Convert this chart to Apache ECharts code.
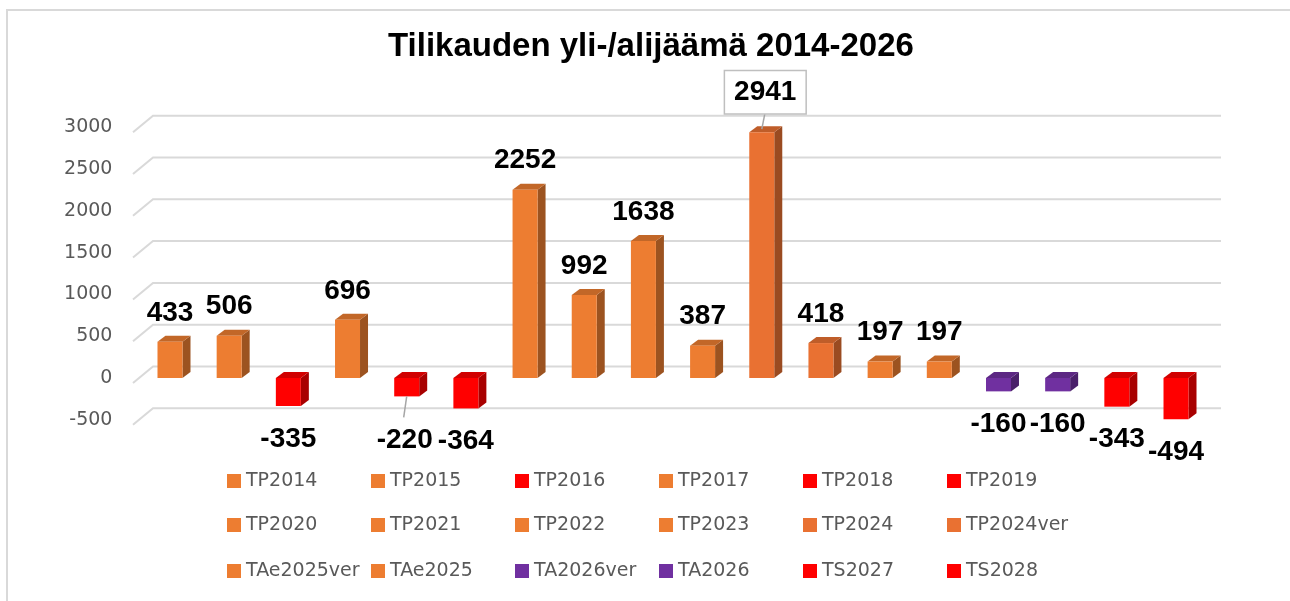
<!DOCTYPE html>
<html><head><meta charset="utf-8">
<script src="https://cdn.jsdelivr.net/npm/echarts@6/dist/echarts.min.js"></script>
<style>html,body{margin:0;padding:0;background:#fff}#c{width:1290px;height:601px}</style>
</head><body><div id="c"></div>
<script>
const titleText = 'Tilikauden yli-/alijäämä 2014-2026';
const categories = ['TP2014','TP2015','TP2016','TP2017','TP2018','TP2019','TP2020','TP2021','TP2022','TP2023','TP2024','TP2024ver','TAe2025ver','TAe2025','TA2026ver','TA2026','TS2027','TS2028'];
const values = [433,506,-335,696,-220,-364,2252,992,1638,387,2941,418,197,197,-160,-160,-343,-494];
const yTicks = [-500,0,500,1000,1500,2000,2500,3000];

const ORANGE = '#ED7D31', ORANGE2 = '#E97132', RED = '#FF0000', PURPLE = '#7030A0';
const seriesColors = [ORANGE,ORANGE,RED,ORANGE,RED,RED,ORANGE,ORANGE,ORANGE,ORANGE,ORANGE2,ORANGE2,ORANGE,ORANGE,PURPLE,PURPLE,RED,RED];
const boxedLabel = 'TP2024';
const leaderLabel = 'TP2018';

function shade(hex, f) {
  const n = parseInt(hex.slice(1), 16);
  const r = Math.round(((n >> 16) & 255) * f), g = Math.round(((n >> 8) & 255) * f), b = Math.round((n & 255) * f);
  return 'rgb(' + r + ',' + g + ',' + b + ')';
}

const LABEL_FONT = { fontFamily: '"Liberation Sans", Arial, sans-serif', fontWeight: 'bold', fontSize: 28 };

function barRender(idx) {
  return function (params, api) {
    const v = api.value(1);
    const p0 = api.coord([api.value(0), 0]);
    const p1 = api.coord([api.value(0), v]);
    const x = p0[0];
    const w = 25, dx = 8, dy = 6;
    const left = x - w / 2, right = x + w / 2;
    const top = Math.min(p0[1], p1[1]), bot = Math.max(p0[1], p1[1]);
    const c = seriesColors[idx];
    const name = categories[idx];
    const children = [
      { type: 'polygon', shape: { points: [[right, top], [right + dx, top - dy], [right + dx, bot - dy], [right, bot]] }, style: { fill: shade(c, 0.66) } },
      { type: 'polygon', shape: { points: [[left, top], [left + dx, top - dy], [right + dx, top - dy], [right, top]] }, style: { fill: shade(c, 0.82) } },
      { type: 'rect', shape: { x: left, y: top, width: w, height: bot - top }, style: { fill: c } }
    ];
    const txt = String(v);
    if (name === boxedLabel) {
      const cy = top - 40;
      children.push({ type: 'line', shape: { x1: x + 3, y1: cy + 22, x2: x, y2: top - 3 }, style: { stroke: '#a6a6a6', lineWidth: 1.5 } });
      children.push({ type: 'text', style: Object.assign({ text: txt, x: x + 3.5, y: cy, align: 'center', verticalAlign: 'middle', fill: '#000',
        backgroundColor: '#fff', borderColor: '#bfbfbf', borderWidth: 1.5, padding: [7, 9, 7, 9] }, LABEL_FONT) });
    } else if (name === leaderLabel) {
      children.push({ type: 'line', shape: { x1: x, y1: bot, x2: x - 3, y2: bot + 21 }, style: { stroke: '#a6a6a6', lineWidth: 1.5 } });
      children.push({ type: 'text', style: Object.assign({ text: txt, x: x - 2, y: bot + 44, align: 'center', verticalAlign: 'middle', fill: '#000' }, LABEL_FONT) });
    } else if (v >= 0) {
      children.push({ type: 'text', style: Object.assign({ text: txt, x: x, y: top - 29, align: 'center', verticalAlign: 'middle', fill: '#000' }, LABEL_FONT) });
    } else {
      children.push({ type: 'text', style: Object.assign({ text: txt, x: x, y: bot + 33, align: 'center', verticalAlign: 'middle', fill: '#000' }, LABEL_FONT) });
    }
    return { type: 'group', children: children };
  };
}

const series = [{
  type: 'custom', name: '_grid', silent: true, z: 1, clip: false,
  data: yTicks.map(t => [0, t]), encode: { x: 0, y: 1 },
  renderItem: function (params, api) {
    const cs = params.coordSys;
    const y = api.coord([0, api.value(1)])[1];
    return { type: 'polyline', shape: { points: [[cs.x - 7.4, y + 5], [cs.x + 12.6, y - 11.5], [cs.x + cs.width + 15.4, y - 11.5]] },
      style: { stroke: '#d9d9d9', lineWidth: 2, fill: null } };
  }
}];
categories.forEach((name, i) => {
  series.push({
    type: 'custom', name: name, z: 2, clip: false,
    itemStyle: { color: seriesColors[i] },
    data: [[i, values[i]]], encode: { x: 0, y: 1 },
    renderItem: barRender(i)
  });
});

const legendRowsTop = [471, 515, 561];
const chart = echarts.init(document.getElementById('c'));
chart.setOption({
  animation: false,
  backgroundColor: '#fff',
  title: { text: titleText, left: 388, top: 30, padding: 0,
    textStyle: { fontFamily: '"Liberation Sans", Arial, sans-serif', fontWeight: 'bold', fontSize: 33, color: '#000', lineHeight: 34 } },
  graphic: [{ type: 'rect', silent: true, z: 0, shape: { x: 7, y: 10, width: 1400, height: 800 }, style: { fill: 'none', stroke: '#d9d9d9', lineWidth: 2 } }],
  grid: { left: 140.4, right: 84.4, top: 127.2, bottom: 181.2, containLabel: false },
  xAxis: { type: 'category', data: categories, axisLine: { show: false }, axisTick: { show: false }, axisLabel: { show: false }, splitLine: { show: false } },
  yAxis: { type: 'value', min: -500, max: 3000, interval: 500, splitLine: { show: false }, axisLine: { show: false }, axisTick: { show: false },
    axisLabel: { color: '#595959', fontFamily: '"DejaVu Sans", sans-serif', fontSize: 19, margin: 28, padding: [12, 0, 0, 0],
      formatter: function (v) { return String(v); } } },
  legend: [0, 1, 2].map(r => ({
    data: categories.slice(r * 6, r * 6 + 6), left: 227, top: legendRowsTop[r], orient: 'horizontal',
    itemWidth: 14, itemHeight: 14, itemGap: 0, padding: 0, icon: 'rect', selectedMode: false,
    textStyle: { color: '#595959', fontFamily: '"DejaVu Sans", sans-serif', fontSize: 19, width: 125, lineHeight: 20 }
  })),
  series: series
});
</script>
</body></html>
